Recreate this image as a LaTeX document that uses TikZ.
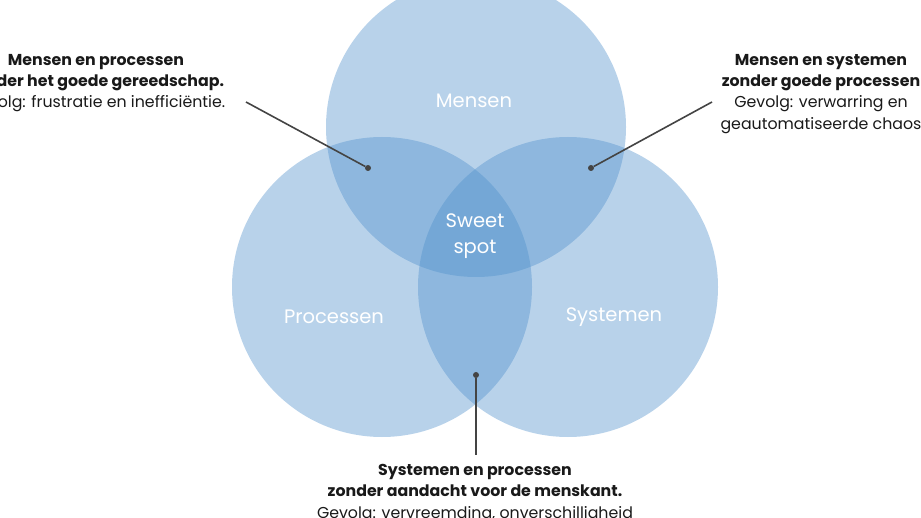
\documentclass[tikz,border=0pt]{standalone}
\usepackage{fontspec}
\setmainfont{Poppins}
\usepackage{tikz}
\usetikzlibrary{positioning}
\definecolor{venn-blue}{RGB}{78,143,203}
\definecolor{note-gray}{RGB}{68,68,68}
\tikzset{venn-circle/.style={circle, fill=venn-blue, fill opacity=0.4, minimum size=300pt, inner sep=0}}
\tikzset{venn-label/.style={text=white, font=\fontsize{19.5}{26}\selectfont, align=center}}
\tikzset{note-dot/.style={circle, fill=note-gray, minimum size=6pt, inner sep=0}}
\tikzset{note-line/.style={line width=1.6pt, draw=note-gray}}
\tikzset{note-text/.style={text=black!90, font=\fontsize{15.8}{21.3}\selectfont, align=center, inner sep=0}}

\begin{document}
\begin{tikzpicture}[x=1pt, y=-1pt]
            \useasboundingbox (0,0) rectangle (921,518);
            \clip (0,0) rectangle (921,518);

            \node[venn-circle] (mensen) at (476,127) {};
            \node[venn-circle] (processen) at (382,287) {};
            \node[venn-circle] (systemen) at (568,287) {};

            \node[venn-label] at (474,101) {Mensen};
            \node[venn-label] at (334,317) {Processen};
            \node[venn-label] at (614,317) {Systemen};
            \node[venn-label] at (475,236) {Sweet\\spot};

            \node[note-dot] (dot1) at (368,168) {};
            \node[note-dot] (dot2) at (591,168) {};
            \node[note-dot] (dot3) at (476,375) {};

            \coordinate (end1) at (246,102);
            \coordinate (end2) at (712,102);
            \coordinate (end3) at (476,455);

            \draw[note-line] (dot1) -- (end1);
            \draw[note-line] (dot2) -- (end2);
            \draw[note-line] (dot3) -- (end3);

            \node[note-text, anchor=north] (note1) at (96,54) {\textbf{Mensen en processen}\\\textbf{zonder het goede gereedschap.}\\Gevolg: frustratie en inefficiëntie.};
            \node[note-text, anchor=north] (note2) at (821,54) {\textbf{Mensen en systemen}\\\textbf{zonder goede processen}\\Gevolg: verwarring en\\geautomatiseerde chaos};
            \node[note-text, anchor=north] (note3) at (475,464) {\textbf{Systemen en processen}\\\textbf{zonder aandacht voor de menskant.}\\Gevolg: vervreemding, onverschilligheid};

        \end{tikzpicture}
\end{document}
